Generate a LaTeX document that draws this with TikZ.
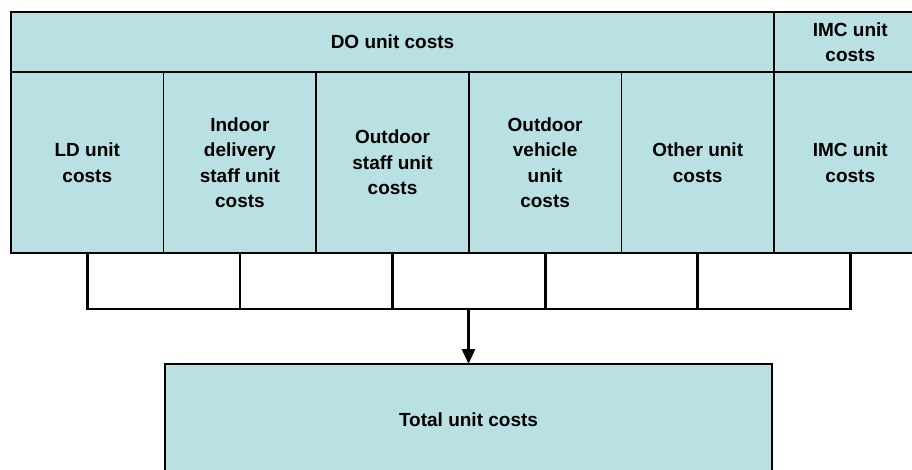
\documentclass[tikz,border=0pt]{standalone}
\usepackage{fontspec}
\setmainfont{Liberation Sans}
\usetikzlibrary{arrows.meta,positioning}
\definecolor{cellblue}{HTML}{B9E0E3}
\tikzset{
  cell/.style={rectangle,draw=black,line width=1.7pt,fill=cellblue,align=center,inner sep=2pt,outer sep=0pt,font=\bfseries\fontsize{19}{25.5}\selectfont},
  column/.style={cell,minimum width=152.6pt,minimum height=181pt,anchor=north west},
  header/.style={cell,minimum height=60pt,anchor=north west},
  bus/.style={line width=2.8pt,black},
  arrow/.style={-{Triangle[length=15pt,width=13pt]},line width=2.8pt,black}
}

\begin{document}
\begin{tikzpicture}[x=1pt,y=-1pt]
    \useasboundingbox[fill=white] (0,0) rectangle (912,470);
    % top row of headers
    \node[header,minimum width=763pt] (do) at (11,12) {DO unit costs};
    \node[header,minimum width=152.6pt] (imchead) at (do.north east) {IMC unit\\costs};
    % unit cost columns
    \node[column] (ld) at (do.south west) {LD unit\\costs};
    \node[column] (indoor) at (ld.north east) {Indoor\\delivery\\staff unit\\costs};
    \node[column] (outstaff) at (indoor.north east) {Outdoor\\staff unit\\costs};
    \node[column] (vehicle) at (outstaff.north east) {Outdoor\\vehicle\\unit\\costs};
    \node[column] (other) at (vehicle.north east) {Other unit\\costs};
    \node[column] (imc) at (other.north east) {IMC unit\\costs};
    % outer frame drawn a bit heavier
    \draw[line width=2.8pt] (do.south west) |- (imchead.north east);
    \draw[line width=2.8pt] (ld.north west) |- (imc.south east);
    \draw[line width=2.4pt] (do.south west) -- (imchead.south east);
    % total box
    \node[cell,line width=2pt,minimum width=607pt,minimum height=112pt,anchor=north west] (total) at (165,364) {Total unit costs};
    % collecting lines
    \coordinate (busy) at (0,309);
    \foreach \c in {ld,indoor,outstaff,vehicle,other,imc}
      \draw[bus] (\c.south) -- (\c.south |- busy);
    \draw[bus,line cap=rect] (ld.south |- busy) -- (imc.south |- busy);
    \draw[arrow] (total.north |- busy) -- (total.north);
\end{tikzpicture}
\end{document}
